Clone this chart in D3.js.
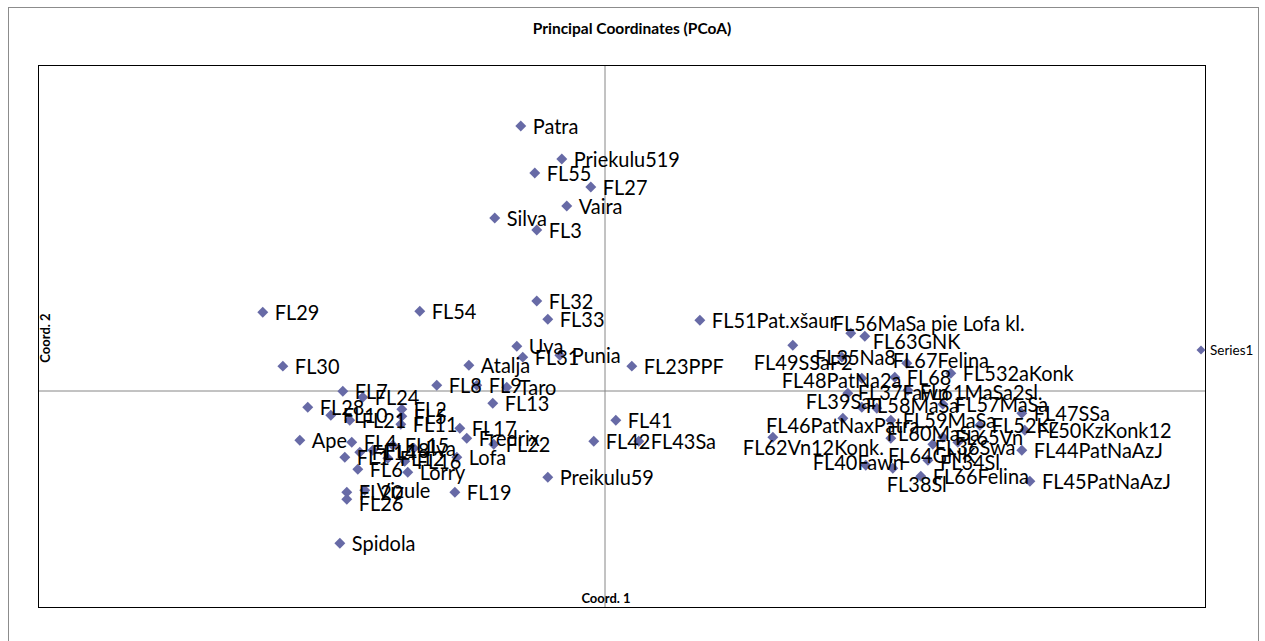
<!DOCTYPE html>
<html>
<head>
<meta charset="utf-8">
<script src="https://cdn.jsdelivr.net/npm/d3@7"></script>
<style>
  body { margin: 0; background: #fff; }
  svg { display: block; }
  .lbl { font-family: Lato, sans-serif; font-size: 21px; fill: #000; }
</style>
</head>
<body>
<svg id="chart" width="1265" height="641"></svg>
<script>
// PCoA sample names and coordinates (Coord. 1, Coord. 2)
const names = [
  'Patra', 'Priekulu519', 'FL55', 'FL27', 'Vaira', 'Silva', 'FL3',
  'FL29', 'FL54', 'FL32', 'FL33', 'Uva', 'FL31', 'Punia', 'Atalja', 'FL23PPF', 'FL30',
  'FL7', 'FL24', 'FL8', 'FL9', 'Taro', 'FL13', 'FL28', 'FL10', 'FL21', 'FL2', 'FL5', 'FL11',
  'FL17', 'Fredrix', 'FL22', 'Lofa', 'FL19', 'Preikulu59', 'FL41', 'FL42', 'FL43Sa',
  'Ape', 'FL4', 'FL14', 'FL1', 'FL18', 'FL15', 'Ilva', 'FL12', 'FL16', 'FL6', 'Lorry',
  'FL20', 'Vizule', 'FL26', 'Spidola',
  'FL51Pat.xšaur', 'FL56MaSa pie Lofa kl.', 'FL63GNK', 'FL49SSaF2', 'FL35Na8', 'FL67Felina',
  'FL532aKonk', 'FL48PatNa2a', 'FL68', 'FL61MaSa2sl.', 'FL37Fawn', 'FL39San', 'FL58MaSa',
  'FL57MaSa', 'FL47SSa', 'FL59MaSa', 'FL52Kz', 'FL50KzKonk12', 'FL46PatNaxPatra',
  'FL62Vn12Konk.', 'FL60MaSa', 'FL65Vn', 'FL36Swa', 'FL44PatNaAzJ', 'FL64GNK', 'FL40Fawn',
  'FL34Sl', 'FL38Sl', 'FL66Felina', 'FL45PatNaAzJ'
];
const coord1 = [
  -0.0587, -0.0297, -0.0488, -0.0092, -0.0262, -0.0771, -0.0474,
  -0.2411, -0.1301, -0.0474, -0.0396, -0.0615, -0.0573, -0.0311, -0.0954, 0.0198, -0.2269,
  -0.1845, -0.1704, -0.1181, -0.0898, -0.0686, -0.0785, -0.2093, -0.1930, -0.1796, -0.1428, -0.1428, -0.1435,
  -0.1018, -0.0969, -0.0778, -0.1039, -0.1053, -0.0396, 0.0085, -0.0071, 0.0247,
  -0.2149, -0.1782, -0.1725, -0.1831, -0.1633, -0.1492, -0.1343, -0.1527, -0.1407, -0.1739, -0.1386,
  -0.1817, -0.1690, -0.1817, -0.1866,
  0.0679, 0.1746, 0.1845, 0.1336, 0.1683, 0.2142,
  0.2453, 0.1824, 0.2057, 0.2149, 0.1725, 0.1824, 0.1930,
  0.2397, 0.2955, 0.2029, 0.2658, 0.2976, 0.1690,
  0.1195, 0.2029, 0.2397, 0.2326, 0.2955, 0.2291, 0.1852,
  0.2503, 0.2043, 0.2241, 0.3012
];
const coord2 = [
  0.2437, 0.2132, 0.2003, 0.1874, 0.1699, 0.1588, 0.1477,
  0.0720, 0.0729, 0.0822, 0.0655, 0.0406, 0.0305, 0.0323, 0.0231, 0.0222, 0.0222,
  -0.0009, -0.0065, 0.0046, 0.0046, 0.0028, -0.0120, -0.0157, -0.0231, -0.0277, -0.0175, -0.0240, -0.0314,
  -0.0351, -0.0443, -0.0498, -0.0618, -0.0942, -0.0803, -0.0277, -0.0471, -0.0471,
  -0.0462, -0.0480, -0.0572, -0.0618, -0.0554, -0.0508, -0.0535, -0.0628, -0.0655, -0.0729, -0.0757,
  -0.0942, -0.0923, -0.1006, -0.1412,
  0.0646, 0.0526, 0.0498, 0.0415, 0.0305, 0.0249,
  0.0157, 0.0111, 0.0120, 0.0000, -0.0028, -0.0157, -0.0166,
  -0.0129, -0.0212, -0.0277, -0.0323, -0.0369, -0.0258,
  -0.0434, -0.0443, -0.0434, -0.0498, -0.0554, -0.0646, -0.0692,
  -0.0480, -0.0720, -0.0794, -0.0840
];
const seriesName = 'Series1';

// hand-moved data labels (pixel shifts from the default right-hand position)
const labelShift = {
  'FL26': [0, 4],
  'FL56MaSa pie Lofa kl.': [-30, -10], 'FL63GNK': [-4, 5], 'FL49SSaF2': [-51, 17],
  'FL35Na8': [-39, 0], 'FL67Felina': [-26, -3], 'FL48PatNa2a': [-92, 2],
  'FL61MaSa2sl.': [0, 2], 'FL37Fawn': [-2, -1], 'FL39San': [-68, -6], 'FL58MaSa': [-23, -3],
  'FL46PatNaxPatra': [-89, 7], 'FL62Vn12Konk.': [-42, 10], 'FL60MaSa': [-16, -5],
  'FL36Swa': [-10, 3], 'FL64GNK': [-52, -5], 'FL40Fawn': [-65, -3], 'FL34Sl': [-30, 20],
  'FL38Sl': [-18, 16]
};

const points = names.map((n, i) => ({ name: n, x: coord1[i], y: coord2[i] }));

const svg = d3.select('#chart');
const plot = { left: 38, top: 65, right: 1205, bottom: 607 };
const markerColor = '#676aa6';

// chart area frame
svg.append('rect')
  .attr('x', 8.5).attr('y', 7.5)
  .attr('width', 1250).attr('height', 640)
  .attr('fill', '#fff').attr('stroke', '#8c8c8c');

svg.append('text')
  .attr('x', 632).attr('y', 34)
  .attr('text-anchor', 'middle')
  .style('font-family', 'Lato, sans-serif')
  .style('font-size', '15.5px').style('font-weight', 'bold')
  .text('Principal Coordinates (PCoA)');

const x = d3.scaleLinear().domain([-0.4, 0.425]).range([plot.left, plot.right]);
const y = d3.scaleLinear().domain([-0.2, 0.3]).range([plot.bottom, plot.top]);

// zero lines as axes without ticks
svg.append('g')
  .attr('transform', 'translate(0,' + Math.round(y(0)) + '.5)')
  .call(d3.axisBottom(x).tickValues([]).tickSizeOuter(0))
  .select('.domain').attr('stroke', '#868686');
svg.append('g')
  .attr('transform', 'translate(' + Math.round(x(0)) + '.5,0)')
  .call(d3.axisLeft(y).tickValues([]).tickSizeOuter(0))
  .select('.domain').attr('stroke', '#868686');

svg.append('rect')
  .attr('x', plot.left + 0.5).attr('y', plot.top + 0.5)
  .attr('width', plot.right - plot.left).attr('height', plot.bottom - plot.top)
  .attr('fill', 'none').attr('stroke', '#000');

svg.append('text')
  .attr('x', 606).attr('y', 603)
  .attr('text-anchor', 'middle')
  .style('font-family', 'Lato, sans-serif')
  .style('font-size', '13px').style('font-weight', 'bold')
  .text('Coord. 1');

svg.append('text')
  .attr('transform', 'translate(50,338) rotate(-90)')
  .attr('text-anchor', 'middle')
  .style('font-family', 'Lato, sans-serif')
  .style('font-size', '13px').style('font-weight', 'bold')
  .text('Coord. 2');

const diamond = d3.symbol().type(d3.symbolSquare).size(60);

const g = svg.append('g');
g.selectAll('path.pt')
  .data(points)
  .enter().append('path')
  .attr('class', 'pt')
  .attr('d', diamond)
  .attr('transform', d => 'translate(' + x(d.x) + ',' + y(d.y) + ') rotate(45)')
  .attr('fill', markerColor);

// labels: slightly condensed to look like the original narrow face
g.selectAll('text.lbl')
  .data(points)
  .enter().append('text')
  .attr('class', 'lbl')
  .attr('transform', d => {
    const s = labelShift[d.name] || [0, 0];
    return 'translate(' + (x(d.x) + 12 + s[0]) + ',' + (y(d.y) + s[1]) + ') scale(0.95,1)';
  })
  .attr('dy', '0.36em')
  .text(d => d.name);

// legend
const legend = svg.append('g').attr('transform', 'translate(1201,350)');
legend.append('path')
  .attr('d', d3.symbol().type(d3.symbolSquare).size(40))
  .attr('transform', 'rotate(45)')
  .attr('fill', markerColor);
legend.append('text')
  .attr('x', 9).attr('dy', '0.35em')
  .style('font-family', 'Lato, sans-serif')
  .style('font-size', '13.5px')
  .text(seriesName);
</script>
</body>
</html>
